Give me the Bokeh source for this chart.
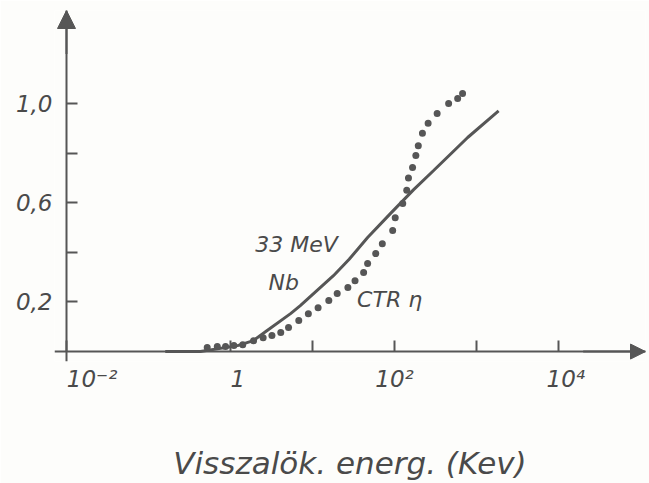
from bokeh.plotting import figure
from bokeh.models import (Range1d, FixedTicker, Label, Arrow, NormalHead, LinearAxis, LogAxis)
from bokeh.embed import file_html
from bokeh.resources import INLINE

# ---- data ----
nb_energy = [0.16, 0.43, 1.22, 1.9, 2.8, 5.4, 7.1, 18, 28, 47, 89, 170, 300, 780, 1860]
nb_value = [0.0, 0.0, 0.024, 0.044, 0.085, 0.153, 0.185, 0.306, 0.372, 0.46, 0.556, 0.652, 0.73, 0.863, 0.97]

ctr_energy = [0.52, 0.69, 0.87, 1.10, 1.41, 1.91, 2.5, 3.2, 4.1, 5.1, 6.8, 8.9, 11.7, 15.8, 20,
              27, 33, 42, 47, 59, 71, 95, 102, 126, 141, 148, 166, 182, 195, 219,
              257, 331, 457, 589, 676]
ctr_value = [0.016, 0.02, 0.02, 0.024, 0.028, 0.044, 0.056, 0.065, 0.077, 0.097, 0.125, 0.153, 0.177, 0.206, 0.234,
             0.258, 0.286, 0.319, 0.355, 0.395, 0.435, 0.488, 0.54, 0.597, 0.65, 0.70, 0.742, 0.79, 0.83, 0.88,
             0.92, 0.96, 1.00, 1.02, 1.04]

x_major_ticks = [0.01, 1, 100, 10000]
x_minor_ticks = [10, 1000]
x_tick_labels = ["\u00a0" * 7 + "10\u207b\u00b2", "\u00a0\u00a01", "10\u00b2", "\u00a0\u00a010\u2074"]
y_major_ticks = [0.2, 0.6, 1.0]
y_minor_ticks = [0.4, 0.8]
y_tick_labels = ["0,2", "0,6", "1,0"]
x_title = "Visszalök. energ. (Kev)"

INK = "#565656"
TXT = "#4a4a4a"
FONT = "DejaVu Sans"

p = figure(width=649, height=483, x_axis_type="log",
           x_range=Range1d(0.00714, 115000), y_range=Range1d(-0.04, 1.375),
           output_backend="svg", toolbar_location=None,
           min_border_left=54, min_border_right=4, min_border_top=10, min_border_bottom=122,
           background_fill_color="#fdfdfb", border_fill_color="#fdfdfb")
p.outline_line_color = None
p.xgrid.visible = False
p.ygrid.visible = False

p.line(nb_energy, nb_value, line_width=3, line_color=INK)
p.scatter(ctr_energy, ctr_value, size=7, fill_color=INK, line_color=None)

# axes drawn through the origin (lines and ticks only)
for ax in (p.xaxis[0], p.yaxis[0]):
    ax.axis_line_color = INK
    ax.axis_line_width = 2
    ax.major_tick_line_color = INK
    ax.minor_tick_line_color = INK
    ax.major_tick_line_width = 2
    ax.minor_tick_line_width = 2
    ax.major_tick_in = 11
    ax.major_tick_out = 0
    ax.minor_tick_in = 11
    ax.minor_tick_out = 0
    ax.major_label_text_font_size = "1px"
    ax.major_label_text_color = None
    ax.major_label_standoff = 0
p.xaxis[0].ticker = FixedTicker(ticks=x_major_ticks, minor_ticks=x_minor_ticks)
p.yaxis[0].ticker = FixedTicker(ticks=y_major_ticks, minor_ticks=y_minor_ticks)
p.xaxis[0].fixed_location = 0
p.yaxis[0].fixed_location = 0.01

# label-only axes in the side panels
def label_axis(ax):
    ax.axis_line_color = None
    ax.major_tick_line_color = None
    ax.minor_tick_line_color = None
    ax.major_tick_in = 0
    ax.major_tick_out = 0
    ax.minor_tick_in = 0
    ax.minor_tick_out = 0
    ax.major_label_text_font = FONT
    ax.major_label_text_font_style = "italic"
    ax.major_label_text_font_size = "23px"
    ax.major_label_text_color = TXT
    return ax

xlab = label_axis(LogAxis(ticker=FixedTicker(ticks=x_major_ticks)))
xlab.major_label_overrides = dict(zip(x_major_ticks, x_tick_labels))
xlab.major_label_standoff = 4
xlab.axis_label = x_title
xlab.axis_label_text_font = FONT
xlab.axis_label_text_font_style = "italic"
xlab.axis_label_text_font_size = "31px"
xlab.axis_label_text_color = TXT
xlab.axis_label_standoff = 50
p.add_layout(xlab, "below")

ylab = label_axis(LinearAxis(ticker=FixedTicker(ticks=y_major_ticks)))
ylab.major_label_overrides = dict(zip(y_major_ticks, y_tick_labels))
ylab.major_label_standoff = 2
p.add_layout(ylab, "left")

# axis arrows
p.add_layout(Arrow(end=NormalHead(size=18, fill_color=INK, line_color=INK),
                   x_start=0.01, y_start=1.2, x_end=0.01, y_end=1.375,
                   line_color=INK, line_width=2))
p.add_layout(Arrow(end=NormalHead(size=15, fill_color=INK, line_color=INK),
                   x_start=20000, y_start=0, x_end=115000, y_end=0,
                   line_color=INK, line_width=2))

# curve labels
for (lx, ly, txt) in [(2.0, 0.43, "33 MeV"), (2.9, 0.28, "Nb"), (35, 0.21, "CTR  \u03b7")]:
    p.add_layout(Label(x=lx, y=ly, text=txt, text_font=FONT, text_font_style="italic",
                       text_font_size="22px", text_color=TXT, text_align="left",
                       text_baseline="alphabetic"))

open("out.html", "w").write(file_html(p, INLINE))
